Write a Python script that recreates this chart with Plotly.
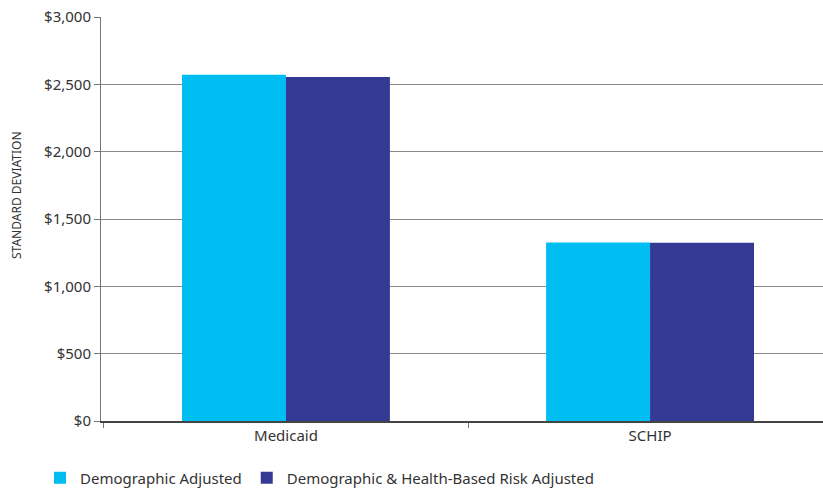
import plotly.graph_objects as go

categories = ["Medicaid", "SCHIP"]
demographic = [2572, 1325]
health_risk = [2554, 1324]
series_names = ["Demographic Adjusted", "Demographic & Health-Based Risk Adjusted"]
y_ticks = [0, 500, 1000, 1500, 2000, 2500, 3000]
y_tick_labels = ["$0", "$500", "$1,000", "$1,500", "$2,000", "$2,500", "$3,000"]
y_title = "STANDARD DEVIATION"

FONT = "Noto Sans, Open Sans, sans-serif"

fig = go.Figure()
fig.add_trace(go.Bar(x=categories, y=demographic, name=series_names[0],
                     marker=dict(color="#00BDF2", line=dict(width=0))))
fig.add_trace(go.Bar(x=categories, y=health_risk, name=series_names[1],
                     marker=dict(color="#343A93", line=dict(width=0))))

fig.add_annotation(text=y_title, textangle=-90, xref="paper", yref="paper",
                   x=-0.118, y=0.559, xanchor="center", yanchor="middle",
                   showarrow=False, font=dict(family=FONT, size=12, color="#333"))

fig.update_layout(
    width=823, height=489,
    margin=dict(l=101, r=0, t=17, b=68, autoexpand=False),
    paper_bgcolor="white", plot_bgcolor="white",
    barmode="group", bargap=0.429, bargroupgap=0,
    font=dict(family=FONT, size=15, color="#333"),
    showlegend=True,
    legend=dict(orientation="h", x=-0.0845, y=-0.141, xanchor="left", yanchor="middle",
                font=dict(family=FONT, size=15, color="#333"),
                itemsizing="constant", traceorder="normal", itemwidth=30),
    xaxis=dict(range=[-0.508, 1.475], showline=True, linecolor="#444", linewidth=1.5,
               ticks="outside", tickson="boundaries", ticklen=5, tickcolor="#777",
               showgrid=False, tickfont=dict(size=15, color="#333")),
    yaxis=dict(range=[0, 3000], tickvals=y_ticks, ticktext=y_tick_labels,
               showline=True, linecolor="#777", linewidth=1,
               ticks="outside", ticklen=6, tickcolor="#777",
               showgrid=True, gridcolor="#888", gridwidth=1,
               zeroline=False,
               tickfont=dict(size=15, color="#333")),
)
fig.write_html("out.html")
